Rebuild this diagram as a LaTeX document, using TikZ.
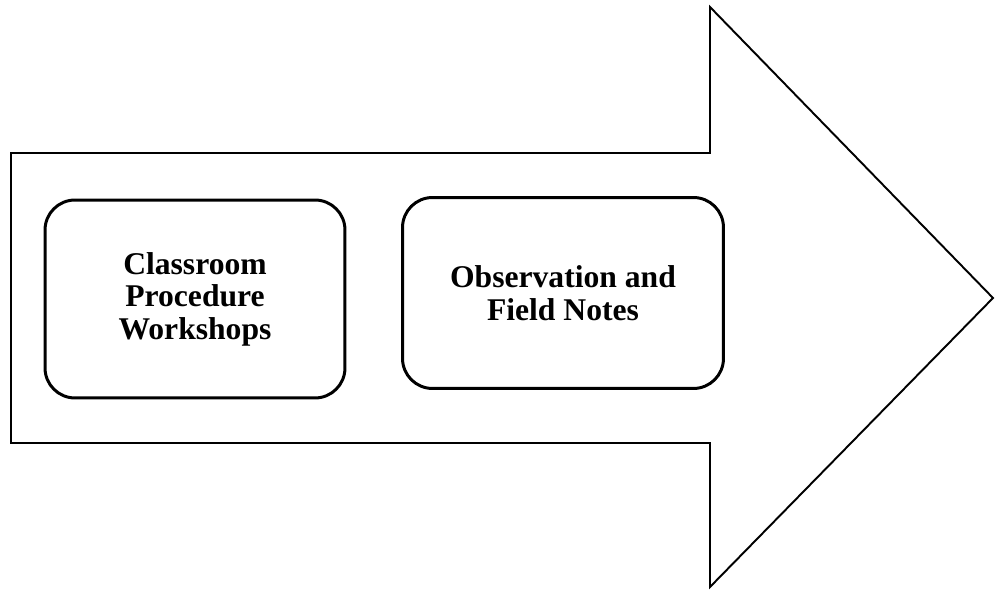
\documentclass[tikz,border=0pt]{standalone}
\usepackage{fontspec}
\setmainfont{Liberation Serif}
\usetikzlibrary{backgrounds}
\tikzset{
  stage/.style={draw, line width=1.7pt, rounded corners=0.6cm, align=center,
    font=\bfseries\fontsize{18}{18.5}\selectfont, inner sep=0pt}
}

\begin{document}
\begin{tikzpicture}[x=0.02cm,y=-0.02cm]
    \useasboundingbox (0,0) rectangle (995,590);
    \draw[line width=1.1pt, line join=miter]
      (11,153) -- (710,153) -- (710,7) -- (993,298) -- (710,587)
      -- (710,443) -- (11,443) -- cycle;

    \node[stage, minimum width=6cm, minimum height=3.96cm] (workshops) at (195,299)
      {Classroom\\Procedure\\Workshops};
    \node[stage, minimum width=6.42cm, minimum height=3.82cm] (notes) at (563,293)
      {Observation and\\Field Notes};
\end{tikzpicture}
\end{document}
